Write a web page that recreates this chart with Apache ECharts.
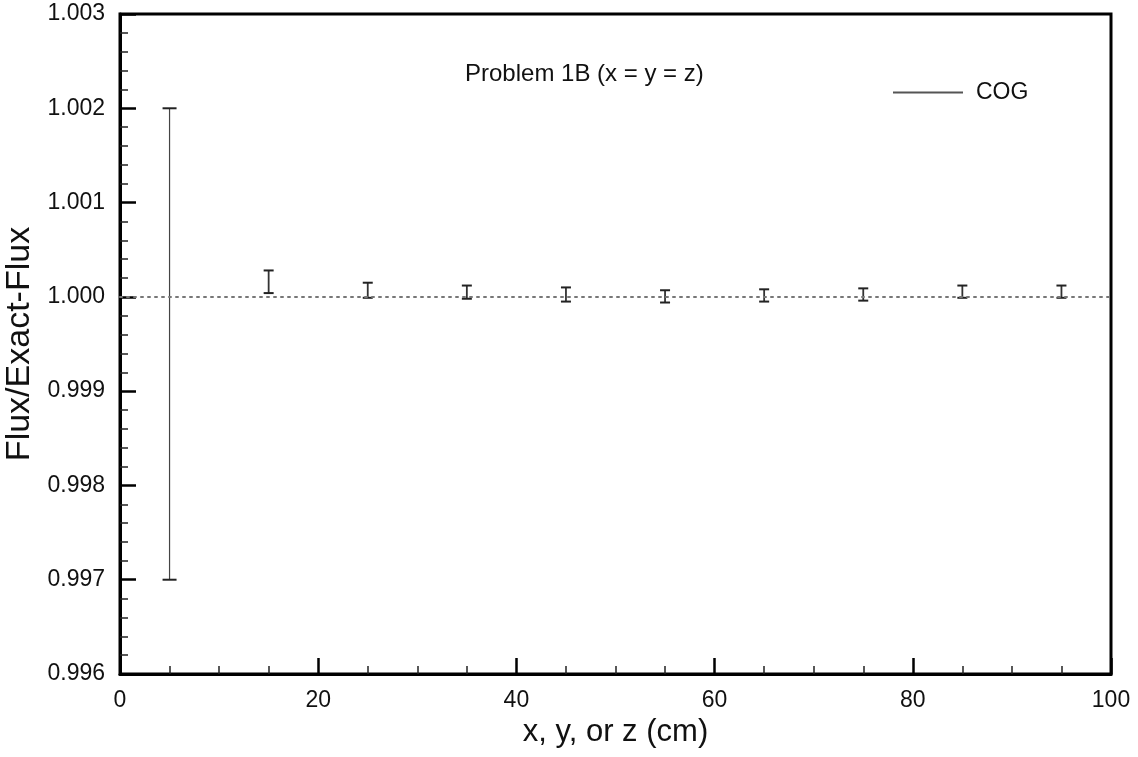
<!DOCTYPE html>
<html>
<head>
<meta charset="utf-8">
<script src="https://cdn.jsdelivr.net/npm/echarts@6/dist/echarts.min.js"></script>
<style>
html,body{margin:0;padding:0;background:#fff;}
#chart{width:1138px;height:757px;}
</style>
</head>
<body>
<div id="chart"></div>
<script>
// ---- data ----
const xPositions = [5, 15, 25, 35, 45, 55, 65, 75, 85, 95];
const lowerValues = [0.99700, 1.00004, 0.99999, 0.99998, 0.99995, 0.99994, 0.99995, 0.99996, 0.99999, 0.99999];
const upperValues = [1.00200, 1.00028, 1.00015, 1.00012, 1.00010, 1.00007, 1.00008, 1.00009, 1.00012, 1.00012];
const seriesName = 'COG';
const titleText = 'Problem 1B (x = y = z)';
const xAxisTitle = 'x, y, or z (cm)';
const yAxisTitle = 'Flux/Exact-Flux';
const referenceValue = 1.000;

const FONT = "'Liberation Sans', Arial, Helvetica, sans-serif";
const data = xPositions.map((x, i) => [x, lowerValues[i], upperValues[i]]);

const chart = echarts.init(document.getElementById('chart'), null, {renderer: 'canvas'});
chart.setOption({
  backgroundColor: '#fff',
  animation: false,
  title: {
    text: titleText,
    left: 460, top: 57,
    textStyle: {fontFamily: FONT, fontSize: 24, fontWeight: 'normal', color: '#111'}
  },
  legend: {
    left: 888, top: 76,
    itemWidth: 70, itemHeight: 2, itemGap: 10,
    icon: 'rect',
    textStyle: {fontFamily: FONT, fontSize: 23, color: '#111', padding: [0,0,0,8]},
    data: [{name: seriesName, itemStyle: {color: '#555'}}]
  },
  grid: {left: 120, right: 27, top: 14, bottom: 83, show: true, borderColor: '#000', borderWidth: 3, containLabel: false, outerBoundsMode: 'none'},
  xAxis: {
    type: 'value', min: 0, max: 100, interval: 20,
    name: xAxisTitle, nameLocation: 'middle', nameGap: 41,
    nameTextStyle: {fontFamily: FONT, fontSize: 31, color: '#111'},
    axisLine: {show: true, lineStyle: {color: '#000', width: 3}},
    axisTick: {show: true, inside: true, length: 16, lineStyle: {color: '#000', width: 2.5}},
    minorTick: {show: true, splitNumber: 4, length: 8, lineStyle: {color: '#222', width: 1.5}},
    axisLabel: {fontFamily: FONT, fontSize: 23, color: '#111', margin: 15},
    splitLine: {show: false}
  },
  yAxis: {
    type: 'value', min: 0.996, max: 1.003, interval: 0.001,
    name: yAxisTitle, nameLocation: 'middle', nameGap: 64, nameRotate: 90,
    nameTextStyle: {fontFamily: FONT, fontSize: 34, color: '#111'},
    axisLine: {show: true, lineStyle: {color: '#000', width: 3}},
    axisTick: {show: true, inside: true, length: 16, lineStyle: {color: '#000', width: 2.5}},
    minorTick: {show: true, splitNumber: 5, length: 8, lineStyle: {color: '#222', width: 1.5}},
    axisLabel: {fontFamily: FONT, fontSize: 23, color: '#111', margin: 15, formatter: v => v.toFixed(3)},
    splitLine: {show: false}
  },
  series: [{
    name: seriesName,
    type: 'custom',
    data: data,
    encode: {x: 0, y: [1, 2]},
    itemStyle: {color: '#555'},
    renderItem: function (params, api) {
      const x = api.value(0), lo = api.value(1), hi = api.value(2);
      const pLo = api.coord([x, lo]);
      const pHi = api.coord([x, hi]);
      const big = (hi - lo) > 0.001;
      const hw = big ? 7 : 5;
      const vStyle = {stroke: big ? '#444' : '#333', lineWidth: big ? 1.2 : 1.8};
      const cStyle = {stroke: '#222', lineWidth: 2};
      return {
        type: 'group',
        children: [
          {type: 'line', shape: {x1: pLo[0], y1: pLo[1], x2: pHi[0], y2: pHi[1]}, style: vStyle},
          {type: 'line', shape: {x1: pLo[0] - hw, y1: pLo[1], x2: pLo[0] + hw, y2: pLo[1]}, style: cStyle},
          {type: 'line', shape: {x1: pHi[0] - hw, y1: pHi[1], x2: pHi[0] + hw, y2: pHi[1]}, style: cStyle}
        ]
      };
    },
    markLine: {
      silent: true,
      symbol: 'none',
      label: {show: false},
      lineStyle: {color: '#777', width: 2, type: [2, 5], cap: 'round'},
      data: [{yAxis: referenceValue}]
    },
    z: 3
  }]
});
</script>
</body>
</html>
